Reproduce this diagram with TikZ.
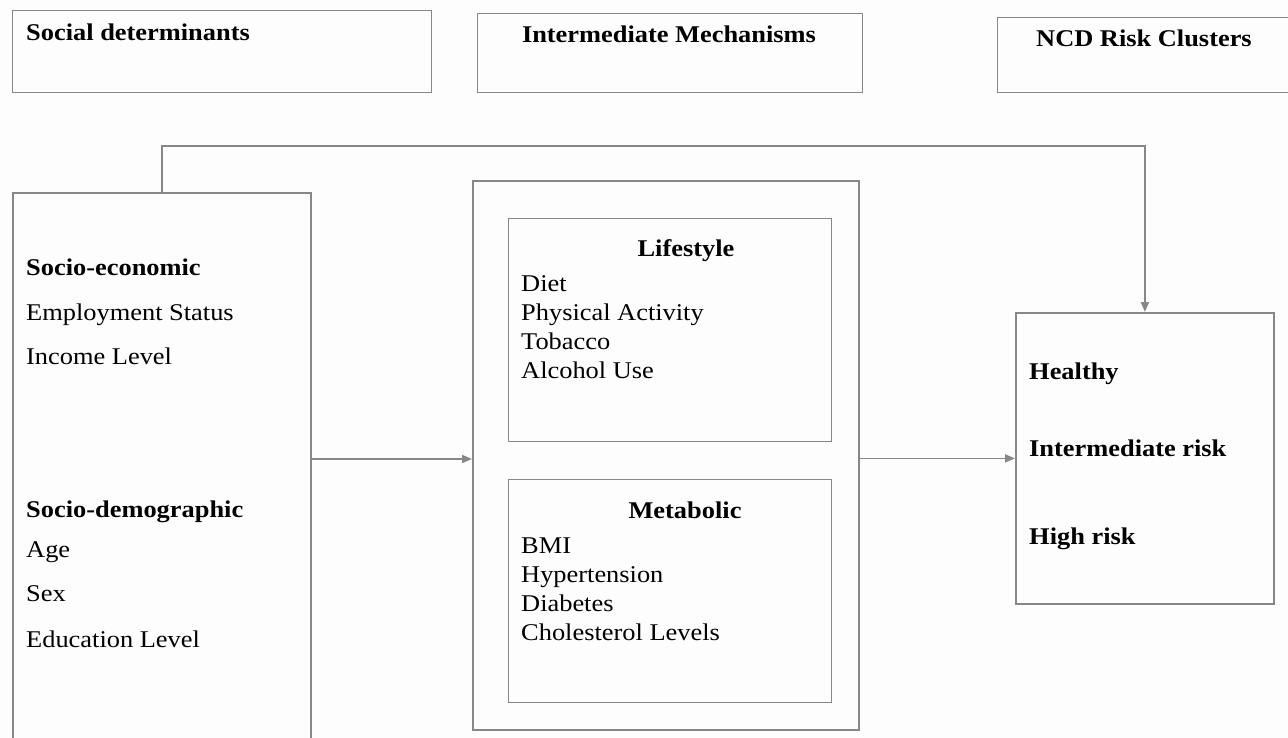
\documentclass[tikz,border=0pt]{standalone}
\usepackage{fontspec}
\setmainfont{Liberation Serif}[FakeStretch=1.1]
\usetikzlibrary{arrows.meta}
\definecolor{linegray}{RGB}{135,135,135}
\definecolor{bggray}{RGB}{253,253,253}
\begin{document}
\begin{tikzpicture}[x=1pt,y=-1pt,
  box/.style={draw=linegray,line width=1.8pt,rectangle,inner sep=0pt,anchor=north west},
  thinbox/.style={draw=linegray,line width=1.3pt,rectangle,inner sep=0pt,anchor=north west},
  txt/.style={anchor=base west,inner sep=0pt,font=\fontsize{24}{28}\selectfont},
  btxt/.style={anchor=base west,inner sep=0pt,font=\fontsize{24}{28}\selectfont\bfseries},
  ctxt/.style={anchor=base,inner sep=0pt,font=\fontsize{24}{28}\selectfont\bfseries},
  arr/.style={draw=linegray,line width=1.8pt,-{Triangle[length=10pt,width=8pt]}}]
\fill[bggray] (0,0) rectangle (1288,738);
\useasboundingbox (0,0) rectangle (1288,738);
% header boxes
\node[thinbox,minimum width=419pt,minimum height=82pt] (h1) at (12,10) {};
\node[thinbox,minimum width=385pt,minimum height=79pt] (h2) at (477,13) {};
\node[thinbox,minimum width=320pt,minimum height=75pt] (h3) at (997,17) {};
\node[btxt] (h1t) at (26,41) {Social determinants};
\node[ctxt] (h2t) at (669,43) {Intermediate Mechanisms};
\node[ctxt] (h3t) at (1144,47) {NCD Risk Clusters};
% main boxes
\node[box,minimum width=298pt,minimum height=580pt] (left) at (12,192) {};
\node[box,minimum width=386pt,minimum height=549pt] (mid) at (472,180) {};
\node[thinbox,minimum width=323pt,minimum height=223pt] (life) at (508,218) {};
\node[thinbox,minimum width=323pt,minimum height=223pt] (meta) at (508,479) {};
\node[box,minimum width=258pt,minimum height=291pt] (right) at (1015,312) {};
% left texts
\node[btxt] (se) at (26,276) {Socio-economic};
\node[txt] (emp) at (26,320) {Employment Status};
\node[txt] (inc) at (26,364) {Income Level};
\node[btxt] (sd) at (26,517) {Socio-demographic};
\node[txt] (age) at (26,557) {Age};
\node[txt] (sex) at (26,601) {Sex};
\node[txt] (edu) at (26,647) {Education Level};
% lifestyle
\node[ctxt] (lt) at (686,257) {Lifestyle};
\node[txt] (l1) at (521,291) {Diet};
\node[txt] (l2) at (521,320) {Physical Activity};
\node[txt] (l3) at (521,349) {Tobacco};
\node[txt] (l4) at (521,378) {Alcohol Use};
% metabolic
\node[ctxt] (mt) at (685,518) {Metabolic};
\node[txt] (m1) at (521,553) {BMI};
\node[txt] (m2) at (521,582) {Hypertension};
\node[txt] (m3) at (521,611) {Diabetes};
\node[txt] (m4) at (521,640) {Cholesterol Levels};
% right texts
\node[btxt] (r1) at (1029,379) {Healthy};
\node[btxt] (r2) at (1029,456) {Intermediate risk};
\node[btxt] (r3) at (1029,544) {High risk};
% connectors
\draw[arr] (left.east |- 0,459) -- (mid.west |- 0,459);
\draw[arr] (mid.east |- right.west) -- (right.west);
\draw[arr] (left.north) -- ++(0,-46) -| (right.north);
\end{tikzpicture}
\end{document}
